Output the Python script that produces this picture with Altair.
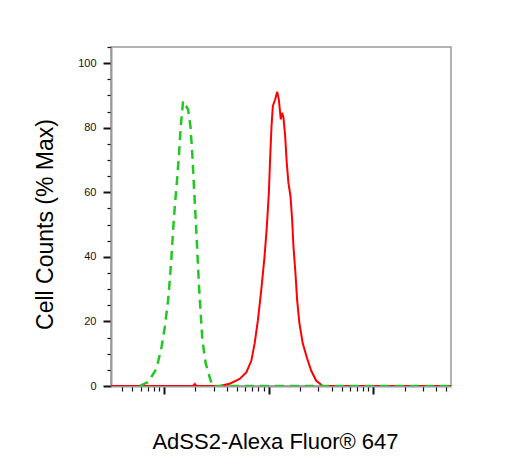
import altair as alt
import pandas as pd

# Isotype control (green dashed)
green_x = [590, 709, 852, 951, 1022, 1099, 1140, 1184, 1227, 1273, 1339, 1400, 1452, 1528,
           1704, 1795, 1876, 1931, 1986, 2048, 2108, 2170, 2249, 2336, 2512, 2742, 2910, 553000]
green_y = [0, 1.2, 5.4, 12.1, 18.3, 26.6, 32.8, 40.1, 48.4, 55.6, 63.9, 72.3, 80.5, 88.3,
           85.7, 80.5, 71.2, 63.0, 55.6, 47.4, 39.0, 30.7, 22.6, 14.2, 7.0, 2.7, 0, 0]

# AdSS2 stained sample (red solid)
red_x = [313, 1900, 1973, 2050, 3400, 4254, 5297, 6134, 6846, 7362, 7914, 8519, 9159, 9636,
         10070, 10380, 10680, 10990, 11580, 12100, 12540, 13090, 13500, 13890, 14420, 14930,
         15490, 16200, 16810, 17300, 18080, 18760, 19730, 21220, 23380, 25520, 28460, 32870, 553000]
red_y = [0, 0, 0.6, 0, 0, 0.7, 2.2, 4.2, 7.8, 13.1, 20.3, 29.7, 40.1, 49.4,
         59.8, 71.2, 80.5, 86.7, 88.8, 91.1, 88.8, 82.6, 84.6, 83.1, 77.4, 69.1,
         62.9, 58.8, 51.5, 43.2, 34.9, 26.6, 19.4, 13.2, 8.5, 4.8, 1.7, 0, 0]

x_major = [1000, 10000, 100000]
x_ticks = [400, 500, 600, 700, 800, 900,
           1000, 2000, 3000, 4000, 5000, 6000, 7000, 8000, 9000,
           10000, 20000, 30000, 40000, 50000, 60000, 70000, 80000, 90000,
           100000, 200000, 300000, 400000, 500000]
y_ticks = list(range(0, 106, 5))

x_domain = [313, 553000]
y_domain = [0, 105]

green_df = pd.DataFrame({"x": green_x, "y": green_y})
red_df = pd.DataFrame({"x": red_x, "y": red_y})

FONT = "Liberation Sans"

x_major_test = " || ".join(f"datum.value == {v}" for v in x_major)

x_enc = alt.X(
    "x:Q",
    scale=alt.Scale(type="log", domain=x_domain, nice=False),
    axis=alt.Axis(
        values=x_ticks,
        labels=False,
        grid=False,
        domainColor="#9a9a9a",
        domainWidth=2,
        tickColor="#111111",
        tickSize={"condition": {"test": x_major_test, "value": 8}, "value": 5},
        tickWidth={"condition": {"test": x_major_test, "value": 2}, "value": 1.2},
        title="AdSS2-Alexa Fluor® 647",
        titleFont=FONT,
        titleFontSize=22,
        titleFontWeight="normal",
        titleColor="#000000",
        titleX=164,
        titleY=62,
        titleAlign="center",
        titleBaseline="alphabetic",
    ),
)

y_enc = alt.Y(
    "y:Q",
    scale=alt.Scale(domain=y_domain, nice=False, zero=True),
    axis=alt.Axis(
        values=y_ticks,
        grid=False,
        domainColor="#9a9a9a",
        domainWidth=2,
        tickColor="#111111",
        tickSize={"condition": {"test": "datum.value % 20 == 0", "value": 8}, "value": 4},
        tickWidth={"condition": {"test": "datum.value % 20 == 0", "value": 2}, "value": 1.2},
        labelExpr="datum.value % 20 == 0 ? datum.label : ''",
        labelFont=FONT,
        labelFontSize=11,
        labelColor="#111111",
        labelPadding=7,
        title="Cell Counts (% Max)",
        titleFont=FONT,
        titleFontSize=23,
        titleFontWeight="normal",
        titleColor="#000000",
        titleAngle=-90,
        titleX=-59,
        titleY=177,
        titleAlign="center",
        titleBaseline="alphabetic",
    ),
)

red_line = alt.Chart(red_df).mark_line(color="#ff0000", strokeWidth=2, clip=True).encode(
    x=x_enc, y=y_enc
)
green_line = alt.Chart(green_df).mark_line(
    color="#22c822", strokeWidth=2.5, strokeDash=[9, 6], clip=True
).encode(x=x_enc, y=y_enc)

chart = (
    alt.layer(red_line, green_line)
    .properties(
        width=340,
        height=339,
        autosize=alt.AutoSizeParams(type="none"),
        padding={"left": 103, "top": 39, "right": 40, "bottom": 76},
        background="white",
    )
    .configure_view(stroke="#9a9a9a", strokeWidth=1.5)
)

chart.save("out.html", embed_options={"renderer": "svg", "actions": False})
